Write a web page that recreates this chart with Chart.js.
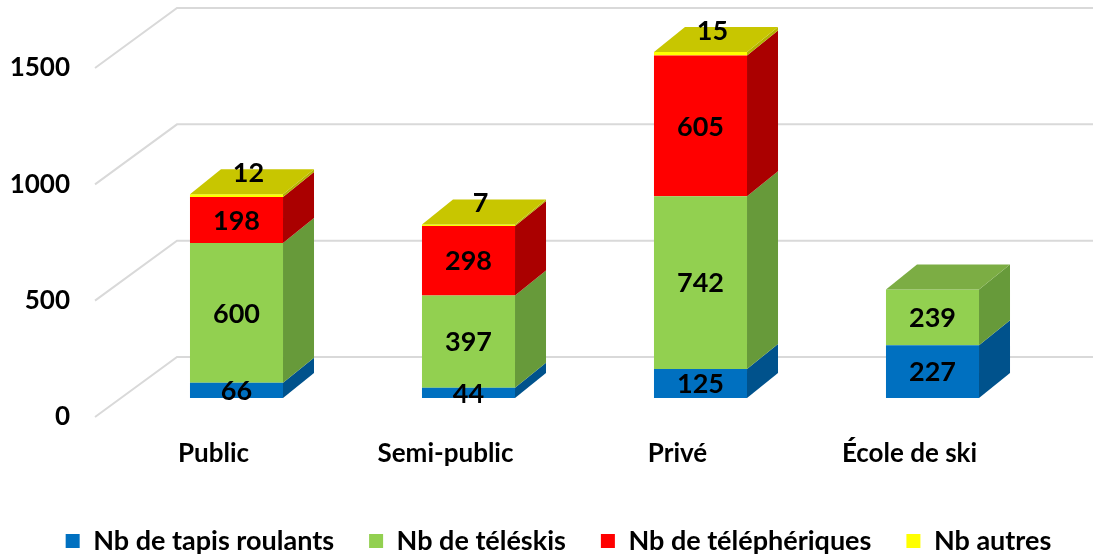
<!DOCTYPE html>
<html>
<head>
<meta charset="utf-8">
<script src="https://cdn.jsdelivr.net/npm/chart.js@4.4.0/dist/chart.umd.min.js"></script>
<style>
  html, body { margin: 0; padding: 0; background: #fff; }
  #wrap { width: 1093px; height: 556px; }
</style>
</head>
<body>
<div id="wrap"><canvas id="chart" width="1093" height="556"></canvas></div>
<script>
var categories = ["Public", "Semi-public", "Privé", "École de ski"];
var seriesNames = ["Nb de tapis roulants", "Nb de téléskis", "Nb de téléphériques", "Nb autres"];
var tapisRoulants = [66, 44, 125, 227];
var teleskis = [600, 397, 742, 239];
var telepheriques = [198, 298, 605, 0];
var autres = [12, 7, 15, 0];
var yTicks = [0, 500, 1000, 1500];

// couleurs face avant / côté / dessus
var frontColors = ["#0070C0", "#92D050", "#FF0000", "#FFFF00"];
var sideColors = ["#00528C", "#679A3A", "#AA0000", "#B4B400"];
var topColors = ["#005EA2", "#7CAD44", "#CC0000", "#C8C600"];

var FONT = "Lato, 'Noto Sans', sans-serif";
var DEPTH_X = 31, DEPTH_Y = -25;

// faux 3D : mur du fond, côtés, dessus et étiquettes
var bars3d = {
    id: "bars3d",
    afterLayout: function (chart) {
        // légende centrée comme dans l'original
        if (chart.legend) chart.legend.left = 24;
    },
    beforeDatasetsDraw: function (chart) {
        var ctx = chart.ctx, y = chart.scales.y, left = chart.chartArea.left;
        ctx.save();
        ctx.strokeStyle = "#d9d9d9";
        ctx.lineWidth = 2;
        yTicks.forEach(function (v) {
            var p = y.getPixelForValue(v);
            ctx.beginPath();
            ctx.moveTo(left - 25.5, p + 19);
            ctx.lineTo(left + 56.5, p - 41);
            ctx.lineTo(chart.width, p - 41);
            ctx.stroke();
        });
        ctx.restore();
    },
    afterDatasetsDraw: function (chart) {
        var ctx = chart.ctx;
        ctx.save();
        categories.forEach(function (cat, i) {
            var topIdx = -1, topEl = null;
            chart.data.datasets.forEach(function (ds, d) {
                if (!ds.data[i]) return;
                var el = chart.getDatasetMeta(d).data[i].getProps(["x", "y", "base", "width"], true);
                var right = el.x + el.width / 2;
                ctx.fillStyle = sideColors[d];
                ctx.beginPath();
                ctx.moveTo(right, el.y);
                ctx.lineTo(right + DEPTH_X, el.y + DEPTH_Y);
                ctx.lineTo(right + DEPTH_X, el.base + DEPTH_Y);
                ctx.lineTo(right, el.base);
                ctx.closePath();
                ctx.fill();
                topIdx = d; topEl = el;
            });
            if (topEl) {
                var l = topEl.x - topEl.width / 2, r = topEl.x + topEl.width / 2;
                ctx.fillStyle = topColors[topIdx];
                ctx.beginPath();
                ctx.moveTo(l, topEl.y);
                ctx.lineTo(l + DEPTH_X, topEl.y + DEPTH_Y);
                ctx.lineTo(r + DEPTH_X, topEl.y + DEPTH_Y);
                ctx.lineTo(r, topEl.y);
                ctx.closePath();
                ctx.fill();
            }
            // étiquettes
            ctx.fillStyle = "#000";
            ctx.font = "bold 27px " + FONT;
            ctx.textAlign = "center";
            ctx.textBaseline = "middle";
            chart.data.datasets.forEach(function (ds, d) {
                var v = ds.data[i];
                if (!v) return;
                var el = chart.getDatasetMeta(d).data[i].getProps(["x", "y", "base"], true);
                if (d === 3) {
                    ctx.fillText(String(v), el.x + 12, el.y - 21);
                } else {
                    ctx.fillText(String(v), el.x, (el.y + el.base) / 2 + 1);
                }
            });
        });
        ctx.restore();
    }
};

var allSeries = [tapisRoulants, teleskis, telepheriques, autres];
var datasets = allSeries.map(function (vals, k) {
    return {
        label: seriesNames[k],
        data: vals,
        backgroundColor: frontColors[k],
        borderWidth: 0,
        categoryPercentage: 0.401,
        barPercentage: 1
    };
});

new Chart(document.getElementById("chart"), {
    type: "bar",
    data: { labels: categories, datasets: datasets },
    plugins: [bars3d],
    options: {
        responsive: false,
        animation: false,
        devicePixelRatio: 1,
        layout: { padding: { top: 49, left: 0, right: 0, bottom: -8.5 } },
        scales: {
            x: {
                stacked: true,
                grid: { display: false, drawTicks: false },
                border: { display: false },
                ticks: {
                    color: "#000",
                    font: { family: FONT, size: 26, weight: "bold" },
                    padding: 40,
                    labelOffset: -23,
                    maxRotation: 0
                },
                afterFit: function (s) { s.height = 94.5; }
            },
            y: {
                stacked: true,
                min: 0,
                max: 1500,
                grid: { display: false, drawTicks: false },
                border: { display: false },
                ticks: {
                    stepSize: 500,
                    color: "#000",
                    font: { family: FONT, size: 26, weight: "bold" },
                    padding: 50.5,
                    labelOffset: 19,
                    callback: function (v) { return String(v); }
                },
                afterFit: function (s) {
                    s.width = 120.5;
                    s.paddingTop = 0;
                    s.paddingBottom = 0;
                }
            },
            yRight: {
                type: "linear",
                position: "right",
                grid: { display: false, drawTicks: false },
                border: { display: false },
                ticks: { display: false },
                afterFit: function (s) { s.width = 44.5; }
            }
        },
        plugins: {
            legend: {
                position: "bottom",
                labels: {
                    boxWidth: 14,
                    boxHeight: 14,
                    padding: 35,
                    color: "#000",
                    font: { family: FONT, size: 27, weight: "bold" }
                }
            },
            tooltip: { enabled: false }
        }
    }
});
</script>
</body>
</html>
